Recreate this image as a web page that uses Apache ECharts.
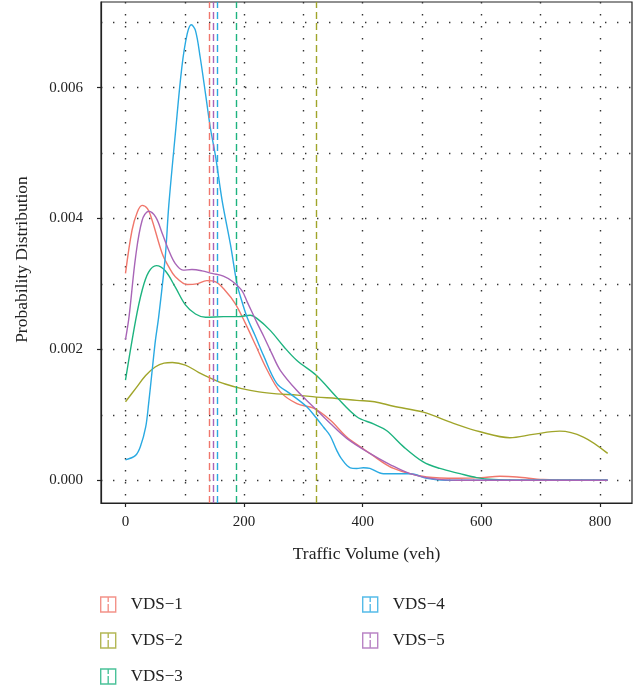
<!DOCTYPE html>
<html><head><meta charset="utf-8">
<script src="https://cdn.jsdelivr.net/npm/echarts@6/dist/echarts.min.js"></script>
<style>html,body{margin:0;padding:0;background:#fff}#c{width:643px;height:691px}</style>
</head><body><div id="c"></div>
<script>
const seriesNames = ['VDS\u22121','VDS\u22122','VDS\u22123','VDS\u22124','VDS\u22125'];
const colors = ['#F0776C','#A0A52A','#1DB37F','#2AAAE2','#A865B7'];

const vds1 = [[0,0.00316],[11,0.00382],[20,0.0041],[28,0.0042],[37,0.00415],[45,0.00397],[62,0.00346],[73,0.00326],[84,0.00311],[104,0.00299],[120,0.003],[137,0.00305],[152,0.00303],[168,0.0029],[185,0.0027],[202,0.0024],[220,0.00205],[238,0.0017],[261,0.00135],[289,0.00117],[317,0.0011],[345,0.00092],[373,0.00066],[396,0.00051],[412,0.00041],[452,0.00018],[508,0.00005],[560,0.00003],[600,0.00004],[631,0.00006],[660,0.00005],[704,0.00001],[760,0],[813,0]];
const vds2 = [[0,0.0012],[17,0.0014],[34,0.0016],[50,0.00173],[65,0.00179],[79,0.0018],[101,0.00176],[123,0.00165],[146,0.00155],[168,0.00147],[196,0.0014],[225,0.00135],[255,0.00132],[290,0.0013],[322,0.00127],[356,0.00125],[390,0.00122],[420,0.0012],[452,0.00113],[502,0.00104],[553,0.00087],[598,0.00074],[648,0.00065],[687,0.0007],[732,0.00075],[772,0.00066],[813,0.00041]];
const vds3 = [[0,0.00153],[17,0.00244],[28,0.0029],[39,0.00318],[52,0.00328],[67,0.0032],[84,0.00295],[101,0.00268],[118,0.00254],[135,0.00249],[165,0.0025],[190,0.0025],[210,0.00252],[222,0.00247],[244,0.00229],[267,0.00204],[289,0.00183],[322,0.0016],[356,0.00127],[390,0.00097],[418,0.00086],[440,0.00076],[469,0.00051],[502,0.00028],[530,0.00018],[564,0.0001],[592,0.00004],[620,0.00001],[660,0],[813,0]];
const vds4 = [[0,0.00031],[17,0.00038],[25,0.00051],[34,0.00081],[39,0.00117],[45,0.00168],[50.5,0.00214],[56,0.0025],[67,0.00341],[73,0.0042],[84,0.00529],[95,0.00631],[104,0.00682],[111,0.00696],[118,0.00687],[126,0.00646],[135,0.0059],[143,0.00539],[152,0.00494],[163,0.00427],[177,0.0036],[188,0.003],[194,0.0028],[205,0.00249],[219,0.0022],[233,0.0019],[255,0.00148],[278,0.00132],[306,0.00112],[320,0.00097],[334,0.00081],[345,0.00068],[356,0.00046],[364,0.00033],[379,0.00019],[390,0.00018],[401,0.00019],[412,0.00018],[435,0.0001],[480,0.0001],[508,0.00003],[540,0],[813,0]];
const vds5 = [[0,0.00215],[6,0.0025],[17,0.00341],[28,0.00397],[39,0.00411],[51,0.00402],[62,0.00377],[73,0.00351],[84,0.00331],[97,0.00321],[112,0.00322],[129,0.0032],[146,0.00316],[165,0.00312],[180,0.00304],[196,0.0029],[205,0.00273],[222,0.0024],[233,0.0022],[247,0.00193],[261,0.00168],[289,0.00137],[317,0.00112],[345,0.00087],[373,0.00064],[412,0.00041],[446,0.00024],[480,0.0001],[520,0.00002],[560,0],[813,0]];
const seriesData = [vds1, vds2, vds3, vds4, vds5];
const means = [140.8, 321.0, 187.2, 155.1, 148.7];

const xTickValues = [0, 200, 400, 600, 800];
const yTickValues = [0, 0.002, 0.004, 0.006];
const xGridValues = [0, 100, 200, 300, 400, 500, 600, 700, 800];
const yGridValues = [0, 0.001, 0.002, 0.003, 0.004, 0.005, 0.006, 0.007];
const xRange = [-41.3, 854];
const yRange = [-0.000348, 0.007308];
const xTitle = 'Traffic Volume (veh)';
const yTitle = 'Probability Distribution';

const FONT = '"Liberation Serif", "DejaVu Serif", serif';
const dotted = { color: '#333', width: 1.4, type: [1.4, 10.6] };
const icon = 'path://M0,0L10,0L10,10L0,10Z M5,0L5,3.4 M5,4.6L5,10';

const chart = echarts.init(document.getElementById('c'), null, { renderer: 'canvas' });
const legendItem = (i) => ({ name: seriesNames[i], icon: icon,
  itemStyle: { color: 'rgba(0,0,0,0)', borderColor: colors[i], borderWidth: 1.4, opacity: 0.8 } });
const legendCommon = { orient: 'vertical', itemWidth: 15, itemHeight: 15, itemGap: 19,
  selectedMode: false, padding: 0, height: 95,
  textStyle: { fontFamily: FONT, fontSize: 17, color: '#222', lineHeight: 17, padding: [0,0,0,10] } };

chart.setOption({
  animation: false,
  backgroundColor: '#fff',
  grid: { left: 101, top: 2, width: 531, height: 501, show: true, borderColor: '#222', borderWidth: 1.2, backgroundColor: 'transparent' },
  legend: [
    Object.assign({ left: 100, top: 596, data: [0,1,2].map(legendItem) }, legendCommon),
    Object.assign({ left: 362, top: 596, data: [3,4].map(legendItem) }, legendCommon)
  ],
  xAxis: [{
    type: 'value', min: xRange[0], max: xRange[1],
    name: xTitle, nameLocation: 'middle', nameGap: 42,
    nameTextStyle: { fontFamily: FONT, fontSize: 17.5, color: '#222' },
    axisLine: { show: true, onZero: false, lineStyle: { color: '#222', width: 1.2 } },
    axisTick: { show: true, length: 4, customValues: xTickValues, lineStyle: { color: '#222', width: 1.2 } },
    axisLabel: { customValues: xTickValues, margin: 12, fontFamily: FONT, fontSize: 15, color: '#222' },
    splitLine: { show: false }
  }, {
    type: 'value', min: xRange[0], max: xRange[1], position: 'bottom',
    axisLine: { show: false }, axisLabel: { show: false },
    axisTick: { show: false, customValues: xGridValues },
    splitLine: { show: true, lineStyle: dotted }
  }],
  yAxis: [{
    type: 'value', min: yRange[0], max: yRange[1],
    name: yTitle, nameLocation: 'middle', nameGap: 70,
    nameTextStyle: { fontFamily: FONT, fontSize: 17.5, color: '#222', padding: [0, 14, 0, 0] },
    axisLine: { show: true, onZero: false, lineStyle: { color: '#222', width: 1.2 } },
    axisTick: { show: true, length: 4, customValues: yTickValues, lineStyle: { color: '#222', width: 1.2 } },
    axisLabel: { customValues: yTickValues, margin: 18, fontFamily: FONT, fontSize: 15, color: '#222',
      formatter: v => v.toFixed(3) },
    splitLine: { show: false }
  }, {
    type: 'value', min: yRange[0], max: yRange[1], position: 'left',
    axisLine: { show: false }, axisLabel: { show: false },
    axisTick: { show: false, customValues: yGridValues },
    splitLine: { show: true, lineStyle: dotted }
  }],
  series: seriesData.map((d, i) => ({
    name: seriesNames[i], type: 'line', data: d, xAxisIndex: 0, yAxisIndex: 0,
    showSymbol: false, smooth: 0.35, color: colors[i],
    lineStyle: { color: colors[i], width: 1.4 },
    markLine: { silent: true, symbol: 'none', label: { show: false },
      lineStyle: { color: colors[i], width: 1.4, type: [7, 4] },
      data: [{ xAxis: means[i] }] }
  }))
});
</script></body></html>
